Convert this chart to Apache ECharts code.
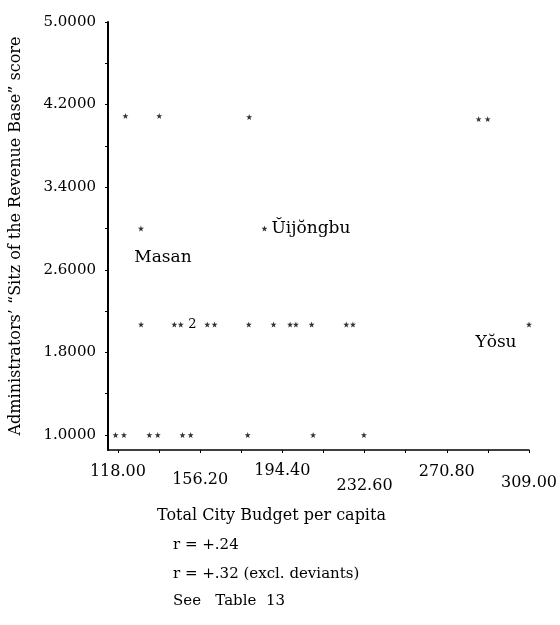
<!DOCTYPE html>
<html>
<head>
<meta charset="utf-8">
<script src="https://cdn.jsdelivr.net/npm/echarts@6/dist/echarts.min.js"></script>
<style>
html,body{margin:0;padding:0;background:#fff;}
#chart{width:560px;height:625px;}
</style>
</head>
<body>
<div id="chart"></div>
<script>
// ---- data ----
const xTickValues = [118, 137.1, 156.2, 175.3, 194.4, 213.5, 232.6, 251.7, 270.8, 289.9, 309];
const xLabelValues = [118, 156.2, 194.4, 232.6, 270.8, 309];
const yTickValues = [1.0, 1.4, 1.8, 2.2, 2.6, 3.0, 3.4, 3.8, 4.2, 4.6, 5.0];
const yLabelValues = [1.0, 1.8, 2.6, 3.4, 4.2, 5.0];

// plain cases (budget per capita, score)
const rowFourX = [121.5, 137.2, 179.0, 285.6, 289.8];
const rowFourY = [4.09, 4.09, 4.08, 4.06, 4.06];
const rowTwoX = [128.75, 144.2, 147.2, 159.5, 162.9, 178.8, 190.3, 198.0, 200.7, 208.0, 224.1, 227.2];
const rowTwoY = [2.07, 2.07, 2.07, 2.07, 2.07, 2.07, 2.07, 2.07, 2.07, 2.07, 2.07, 2.07];
const rowOneX = [116.9, 120.8, 132.6, 136.5, 148.0, 151.8, 178.3, 208.7, 232.3];
const rowOneY = [1.0, 1.0, 1.0, 1.0, 1.0, 1.0, 1.0, 1.0, 1.0];

// named deviant cities
const cityNames = ['Masan', 'Ŭijŏngbu', 'Yŏsu'];
const cityX = [128.7, 186.1, 309.0];
const cityY = [3.0, 3.0, 2.07];

// overlapping cases printed as a count
const overlapX = [152.6];
const overlapY = [2.07];
const overlapCount = [2];

const xAxisTitle = 'Total City Budget per capita';
const yAxisTitle = 'Administrators’ “Sitz of the Revenue Base” score';
const notes = ['r = +.24', 'r = +.32 (excl. deviants)', 'See   Table  13'];

// ---- build ----
const STAR = 'path://M50,0 L61.8,35.1 L97.6,34.5 L69.1,56.5 L79.4,90.5 L50,70 L20.6,90.5 L30.9,56.5 L2.4,34.5 L38.2,35.1 Z';
const FONT = 'DejaVu Serif';
const INK = '#000';

function zip(xs, ys) { return xs.map((x, i) => [x, ys[i]]); }
const plainPts = zip(rowFourX, rowFourY).concat(zip(rowTwoX, rowTwoY), zip(rowOneX, rowOneY));

const cityLabelCfg = [
  { position: 'bottom', offset: [22, 13] },
  { position: 'right', distance: 4 },
  { position: 'bottom', offset: [-33, 2] }
];
const cityPts = cityNames.map((n, i) => ({
  name: n,
  value: [cityX[i], cityY[i]],
  label: Object.assign({ show: true, formatter: n, fontFamily: FONT, fontSize: 17, color: INK, opacity: 1 }, cityLabelCfg[i])
}));

const overlapPts = overlapX.map((x, i) => ({
  value: [x, overlapY[i], overlapCount[i]],
  label: { show: true, position: 'inside', formatter: String(overlapCount[i]), fontFamily: FONT, fontSize: 13, color: INK, opacity: 1, textBorderWidth: 0 }
}));

const xPad = [6, 14, 5, 20, 6, 17];
const xRich = {};
xPad.forEach((p, i) => {
  xRich['l' + i] = { padding: [p, 0, 0, 0], fontFamily: FONT, fontSize: 16, color: INK };
});

const chart = echarts.init(document.getElementById('chart'), null, { renderer: 'canvas' });
chart.setOption({
  animation: false,
  backgroundColor: '#fff',
  textStyle: { fontFamily: FONT, color: INK },
  grid: { left: 105, right: 31, top: 22, bottom: 175, containLabel: false },
  xAxis: {
    type: 'value',
    min: 113.39,
    max: 309,
    axisLine: { show: true, lineStyle: { color: INK, width: 1.5 } },
    axisTick: { show: true, customValues: xTickValues, length: 3, lineStyle: { color: INK, width: 1 } },
    axisLabel: {
      show: true,
      customValues: xLabelValues,
      margin: 8,
      formatter: function (v) {
        let idx = 0;
        xLabelValues.forEach((lv, i) => { if (Math.abs(lv - v) < 0.01) idx = i; });
        return '{l' + idx + '|' + v.toFixed(2) + '}';
      },
      rich: xRich
    },
    splitLine: { show: false }
  },
  yAxis: {
    type: 'value',
    min: 0.855,
    max: 5.0,
    name: yAxisTitle,
    nameLocation: 'middle',
    nameRotate: 90,
    nameGap: 84,
    nameTextStyle: { fontFamily: FONT, fontSize: 16, color: INK },
    axisLine: { show: true, lineStyle: { color: INK, width: 2 } },
    axisTick: { show: true, customValues: yTickValues, length: 3, lineStyle: { color: INK, width: 1 } },
    axisLabel: {
      show: true,
      customValues: yLabelValues,
      margin: 12,
      fontFamily: FONT,
      fontSize: 15,
      color: INK,
      formatter: function (v) { return v.toFixed(4); }
    },
    splitLine: { show: false }
  },
  title: [
    { text: xAxisTitle, left: 152, top: 503, textStyle: { fontFamily: FONT, fontSize: 16, fontWeight: 'normal', color: INK } },
    { text: notes[0], left: 168, top: 533, textStyle: { fontFamily: FONT, fontSize: 15, fontWeight: 'normal', color: INK } },
    { text: notes[1], left: 168, top: 562, textStyle: { fontFamily: FONT, fontSize: 15, fontWeight: 'normal', color: INK } },
    { text: notes[2], left: 168, top: 589, textStyle: { fontFamily: FONT, fontSize: 15, fontWeight: 'normal', color: INK } }
  ],
  series: [
    {
      type: 'scatter',
      symbol: STAR,
      symbolSize: 6,
      itemStyle: { color: INK },
      data: plainPts
    },
    {
      type: 'scatter',
      symbol: STAR,
      symbolSize: 6,
      itemStyle: { color: INK },
      data: cityPts
    },
    {
      type: 'scatter',
      symbol: 'circle',
      symbolSize: 0,
      itemStyle: { color: INK },
      data: overlapPts
    }
  ]
});
</script>
</body>
</html>
